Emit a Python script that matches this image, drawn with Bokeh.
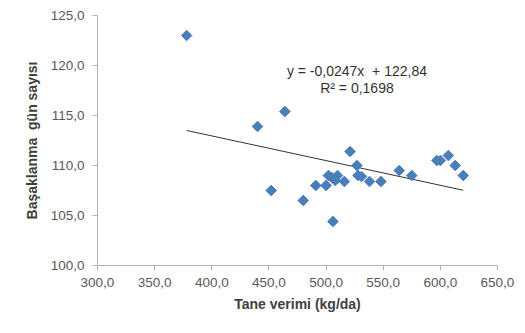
import math
from bokeh.plotting import figure
from bokeh.models import FixedTicker, Label, ColumnDataSource
from bokeh.embed import file_html
from bokeh.resources import INLINE

# Data
yield_kg_da = [378, 440, 464, 452, 480, 491, 500, 502, 506, 508, 510, 505,
               516, 521, 527, 528, 531, 538, 548, 564, 575, 597, 600, 607, 613, 620]
days = [123.0, 113.9, 115.4, 107.5, 106.5, 108.0, 108.0, 109.0, 104.4, 108.5, 109.0, 108.8,
        108.4, 111.4, 110.0, 109.0, 108.9, 108.4, 108.4, 109.5, 109.0, 110.5, 110.5, 111.0, 110.0, 109.0]

slope = -0.0247
intercept = 122.84
eq_text = "y = -0,0247x\u00a0 + 122,84"
r2_text = "R\u00b2 = 0,1698"

x_ticks = [300, 350, 400, 450, 500, 550, 600, 650]
x_tick_labels = ["300,0", "350,0", "400,0", "450,0", "500,0", "550,0", "600,0", "650,0"]
y_ticks = [100, 105, 110, 115, 120, 125]
y_tick_labels = ["100,0", "105,0", "110,0", "115,0", "120,0", "125,0"]

x_title = "Tane verimi (kg/da)"
y_title = "Başaklanma\u00a0 gün sayısı"

p = figure(frame_width=400, frame_height=250, output_backend="svg", toolbar_location=None,
           x_range=(300, 650), y_range=(100, 125),
           min_border_left=97, min_border_right=27, min_border_top=15, min_border_bottom=66)
p.outline_line_color = None
p.grid.visible = False
p.background_fill_color = "white"
p.border_fill_color = "white"

for ax in (p.xaxis[0], p.yaxis[0]):
    ax.axis_line_color = "#b3b3b3"
    ax.major_tick_line_color = "#b3b3b3"
    ax.minor_tick_line_color = None
    ax.major_tick_out = 5
    ax.major_tick_in = 0
    ax.major_label_text_font = "Liberation Sans"
    ax.major_label_text_font_size = "13.5px"
    ax.major_label_text_color = "#595959"
    ax.axis_label_text_font = "Liberation Sans"
    ax.axis_label_text_font_size = "14px"
    ax.axis_label_text_font_style = "bold"
    ax.axis_label_text_color = "#404040"

p.xaxis.ticker = FixedTicker(ticks=x_ticks)
p.xaxis.major_label_overrides = dict(zip(x_ticks, x_tick_labels))
p.yaxis.ticker = FixedTicker(ticks=y_ticks)
p.yaxis.major_label_overrides = dict(zip(y_ticks, y_tick_labels))
p.xaxis.axis_label = x_title
p.yaxis.axis_label = y_title
p.xaxis.major_label_standoff = 7
p.xaxis.axis_label_standoff = 6
p.yaxis.major_label_standoff = 8
p.yaxis.axis_label_standoff = 8

# trendline
x0, x1 = min(yield_kg_da), max(yield_kg_da)
p.line([x0, x1], [slope * x0 + intercept, slope * x1 + intercept],
       line_color="#333333", line_width=1)

src = ColumnDataSource(dict(x=yield_kg_da, y=days))
p.scatter("x", "y", source=src, marker="square", angle=math.pi / 4, size=7.5,
          fill_color="#4a7ebb", line_color="#4a7ebb")

p.add_layout(Label(x=527, y=119.5, text=eq_text, text_align="center", text_baseline="middle",
                   text_font="Liberation Sans", text_font_size="14px", text_color="#333333"))
p.add_layout(Label(x=527, y=117.8, text=r2_text, text_align="center", text_baseline="middle",
                   text_font="Liberation Sans", text_font_size="14px", text_color="#333333"))

open("out.html", "w").write(file_html(p, INLINE))
